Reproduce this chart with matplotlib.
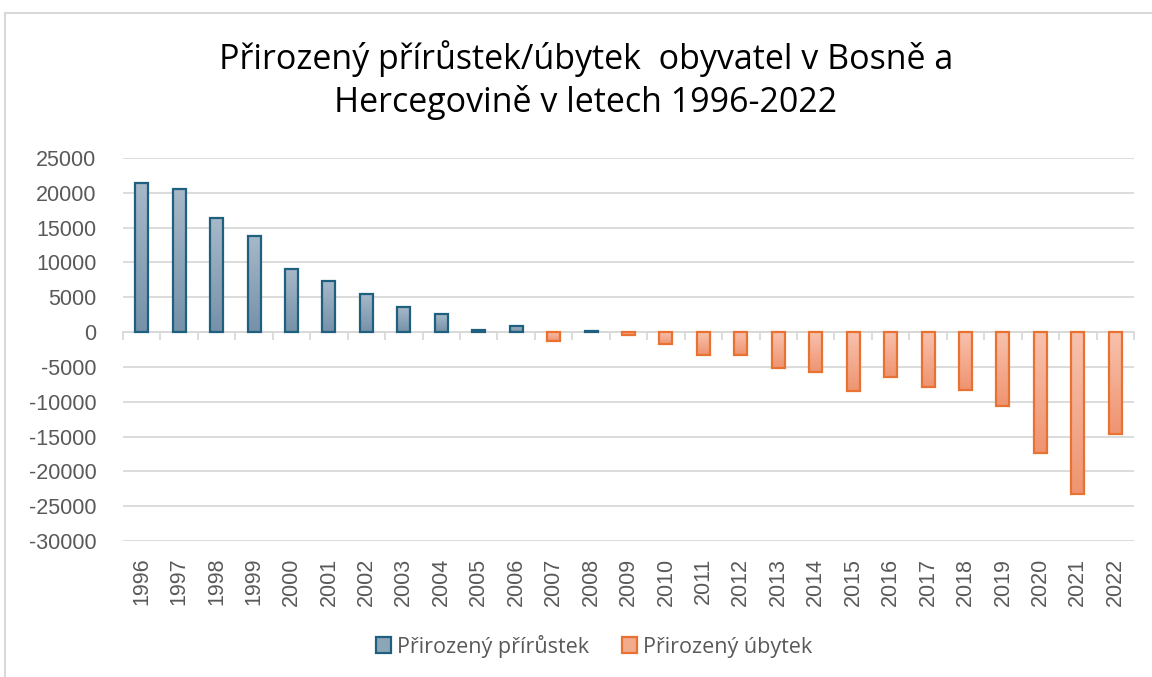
import numpy as np
import matplotlib
matplotlib.use("Agg")
import matplotlib.pyplot as plt
from matplotlib.colors import LinearSegmentedColormap
from matplotlib.patches import Patch
from matplotlib.lines import Line2D

# ---- data ----
years = [str(y) for y in range(1996, 2023)]
values = [21400, 20500, 16350, 13850, 9100, 7400, 5450, 3550, 2550, 300, 900,
          -1300, 200, -400, -1650, -3300, -3350, -5100, -5750, -8450, -6500,
          -7850, -8350, -10600, -17300, -23300, -14700]
y_ticks = list(range(-30000, 25001, 5000))
title_text = "Přirozený přírůstek/úbytek  obyvatel v Bosně a\nHercegovině v letech 1996-2022"
legend_labels = ["Přirozený přírůstek", "Přirozený úbytek"]

# ---- style ----
W, H = 1152, 677
fig = plt.figure(figsize=(W / 100, H / 100), dpi=100)
ax = fig.add_axes([123 / W, (H - 541) / H, (1134 - 123) / W, (541 - 158) / H])

grid_c = "#d9d9d9"
txt_c = "#595959"
pos_edge, neg_edge = "#1f5f80", "#e97132"
pos_cmap = LinearSegmentedColormap.from_list("p", ["#a7b9c9", "#7591a8"])
neg_cmap = LinearSegmentedColormap.from_list("n", ["#f8c2ae", "#ef9470"])
tick_font = "Liberation Sans"
main_font = "Open Sans"

x = np.arange(len(years))
vals = np.array(values, dtype=float)
pos = np.where(vals > 0, vals, np.nan)
neg = np.where(vals < 0, vals, np.nan)

bw = 0.35
bars_p = ax.bar(x, pos, width=bw, facecolor="none", edgecolor=pos_edge, linewidth=1.6, zorder=4)
bars_n = ax.bar(x, neg, width=bw, facecolor="none", edgecolor=neg_edge, linewidth=1.6, zorder=4)

grad = np.linspace(0, 1, 256).reshape(-1, 1)
for bars, cmap in ((bars_p, pos_cmap), (bars_n, neg_cmap)):
    for b in bars:
        h = b.get_height()
        if not np.isfinite(h) or h == 0:
            continue
        x0 = b.get_x()
        y0 = b.get_y()
        ylo, yhi = min(y0, y0 + h), max(y0, y0 + h)
        im = ax.imshow(grad, extent=[x0, x0 + b.get_width(), ylo, yhi], origin="upper",
                       cmap=cmap, aspect="auto", zorder=3, interpolation="bilinear")
        im.set_clip_path(b)

ax.set_xlim(-0.5, len(years) - 0.5)
ax.set_ylim(-30000, 25000)
ax.set_aspect("auto")

ax.set_yticks(y_ticks)
ax.set_yticklabels([str(v) for v in y_ticks])
ax.yaxis.grid(True, color=grid_c, linewidth=1.3, zorder=0)
ax.set_axisbelow(True)
ax.tick_params(axis="y", length=0, pad=19, labelsize=15.5, labelcolor=txt_c)
for lab in ax.get_yticklabels():
    lab.set_fontfamily(tick_font)

for s in ("top", "right", "left"):
    ax.spines[s].set_visible(False)
ax.spines["bottom"].set_position(("data", 0))
ax.spines["bottom"].set_color(grid_c)
ax.spines["bottom"].set_linewidth(1.3)
ax.spines["bottom"].set_zorder(2)
ax.set_xticks(np.arange(-0.5, len(years), 1.0))
ax.set_xticklabels([])
ax.tick_params(axis="x", length=6, width=1.3, color=grid_c, direction="out")

sec = ax.secondary_xaxis("bottom")
sec.set_xticks(x)
sec.set_xticklabels(years, rotation=90, fontsize=15.5, color=txt_c, fontfamily=tick_font)
sec.tick_params(length=0, pad=12)
sec.spines["bottom"].set_visible(False)

fig.text(586 / W, 1 - 80 / H, title_text, ha="center", va="center", fontsize=24.5,
         fontfamily=main_font, color="#000000", linespacing=1.28)

handles = [Patch(facecolor="#8ea5b8", edgecolor=pos_edge, linewidth=1.6),
           Patch(facecolor="#f3ab8e", edgecolor=neg_edge, linewidth=1.6)]
leg = fig.legend(handles, legend_labels, loc="center", bbox_to_anchor=(594 / W, 1 - 646 / H),
                 ncol=2, frameon=False, handlelength=0.7, handleheight=0.7,
                 handletextpad=0.3, columnspacing=1.5,
                 prop={"family": main_font, "size": 15.5})
for t in leg.get_texts():
    t.set_color(txt_c)

# chart frame (cut off at right and bottom)
fig.add_artist(Line2D([5 / W, 5 / W], [0, 1 - 13 / H], transform=fig.transFigure, color=grid_c, lw=1.5))
fig.add_artist(Line2D([5 / W, 1], [1 - 13 / H, 1 - 13 / H], transform=fig.transFigure, color=grid_c, lw=1.5))

fig.savefig("out.png", dpi=100)
